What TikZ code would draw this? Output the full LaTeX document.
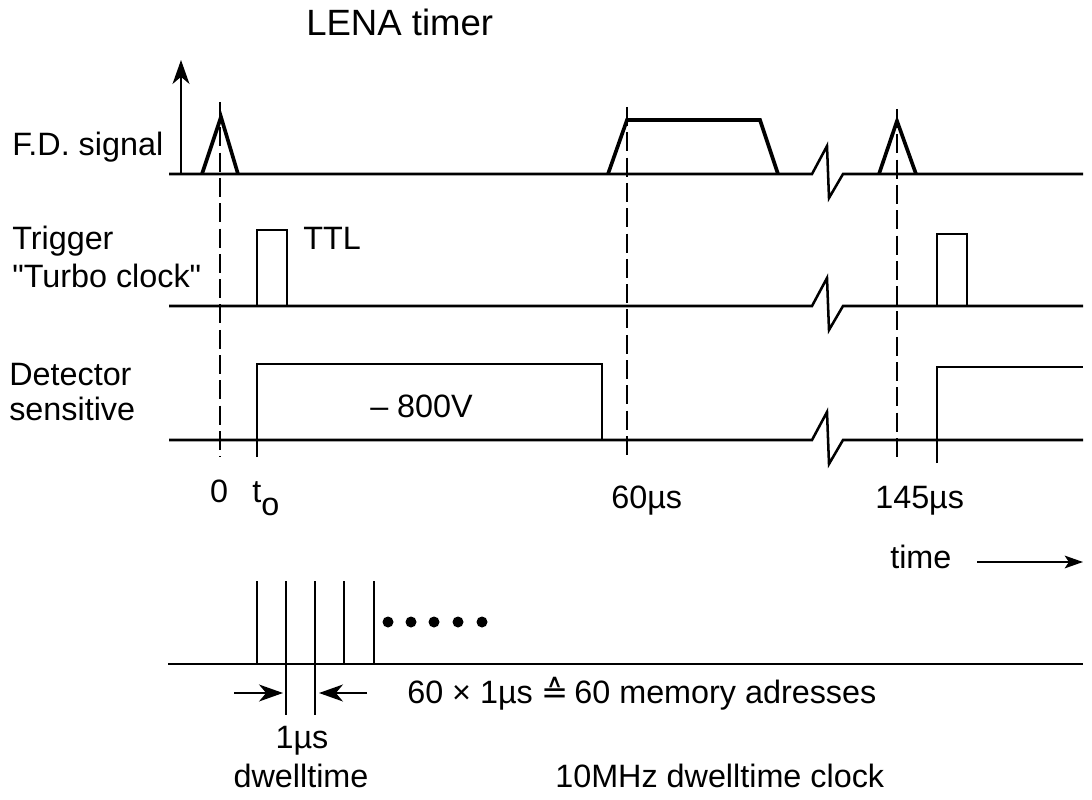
\documentclass[tikz,border=0pt]{standalone}
\usepackage{fontspec}
\setmainfont{Liberation Sans}[Ligatures=TeXOff]
\newfontfamily\symfont{DejaVu Sans}
\usetikzlibrary{arrows.meta,positioning,calc}

\begin{document}
\begin{tikzpicture}[
  x=0.025cm, y=-0.025cm,
  font=\fontsize{23}{26}\selectfont,
  base/.style={line width=1.8pt, line join=miter},
  peak/.style={line width=2.6pt, line join=miter},
  guide/.style={line width=1.6pt, dash pattern=on 13.5pt off 4.5pt},
  lbl/.style={inner sep=0pt, anchor=base west},
  arrow/.style={-{Stealth[length=17pt,width=12pt,inset=5pt]}, line width=1.6pt}
]
\useasboundingbox (0,0) rectangle (1092,800);

% Title
\node[lbl, font=\fontsize{26}{30}\selectfont] (title) at (306,36) {LENA timer};

% Row labels
\node[lbl] (fdlab) at (12,156) {F.D. signal};
\node[lbl] (trglab) at (12,250) {Trigger};
\node[lbl] (turbolab) at (12,288) {"Turbo clock"};
\node[lbl] (detlab) at (9,385) {Detector};
\node[lbl] (senslab) at (9,420) {sensitive};

% Amplitude axis
\coordinate (axbot) at (181,174);
\coordinate (axtop) at (181,60);
\draw[arrow] (axbot) -- (axtop);

% Row 1: F.D. signal
\draw[base] (169,174) -- (812,174) -- ++(15,-28) -- ++(2,52) -- ++(14,-24) -- (1083,174);
\draw[peak] (202,174) -- (221,117) -- (238,174);
\draw[peak] (608,174) -- (627,120) -- (760,120) -- (778,174);
\draw[peak] (879,174) -- (897,121) -- (916,174);

% Row 2: Trigger
\draw[base] (169,306) -- (812,306) -- ++(15,-28) -- ++(2,52) -- ++(14,-24) -- (1083,306);
\draw[base] (257,306) -- (257,230) -- (287,230) -- (287,306);
\draw[base] (937,306) -- (937,234) -- (967,234) -- (967,306);
\node[lbl] (ttl) at (303,250) {TTL};

% Row 3: Detector sensitive
\draw[base] (169,440) -- (812,440) -- ++(15,-28) -- ++(2,52) -- ++(14,-24) -- (1083,440);
\draw[base] (257,457) -- (257,364) -- (602,364) -- (602,440);
\draw[base] (937,463) -- (937,367) -- (1083,367);
\node[lbl] (hv) at (370,417) {– 800V};

% Time marks
\draw[guide] (220,102) -- (220,457);
\draw[guide] (627,107) -- (627,460);
\draw[guide] (897,109) -- (897,463);
\node[inner sep=0pt, anchor=base] (zero) at (219,502) {0};
\node[lbl] (tnull) at (252,502) {t\raisebox{-0.42em}{o}};
\node[lbl] (sixty) at (611,508) {60µs};
\node[lbl] (onefive) at (875,508) {145µs};

% Time axis
\node[lbl] (timelab) at (890,568) {time};
\coordinate (tstart) at (977,562);
\coordinate (tend) at (1083,562);
\draw[-{Stealth[length=13pt,width=9pt,inset=3pt]}, line width=1.5pt] (tstart) -- (tend);

% Row 4: dwelltime clock
\draw[base] (168,664) -- (1083,664);
\foreach \x in {257,286,315,344,374}
  \draw[base] (\x,581) -- (\x,664);
\foreach \x in {388,411,434,458,482}
  \fill (\x,622) circle (5.5);

% Dwelltime width
\draw[line width=1.5pt] (286,664) -- (286,715);
\draw[line width=1.5pt] (315,664) -- (315,715);
\coordinate (la) at (234,693);
\coordinate (ra) at (367,693);
\draw[arrow] (la) -- (283,693);
\draw[arrow] (ra) -- (319,693);
\node[lbl] (memo) at (407,703) {60 × 1µs {\symfont ≙}\,60 memory adresses};
\node[inner sep=0pt, anchor=base] (dwone) at (302,748) {1µs};
\node[inner sep=0pt, anchor=base] (dwtwo) at (301,787) {dwelltime};
\node[lbl] (clk) at (555,787) {10MHz dwelltime clock};

\end{tikzpicture}
\end{document}
